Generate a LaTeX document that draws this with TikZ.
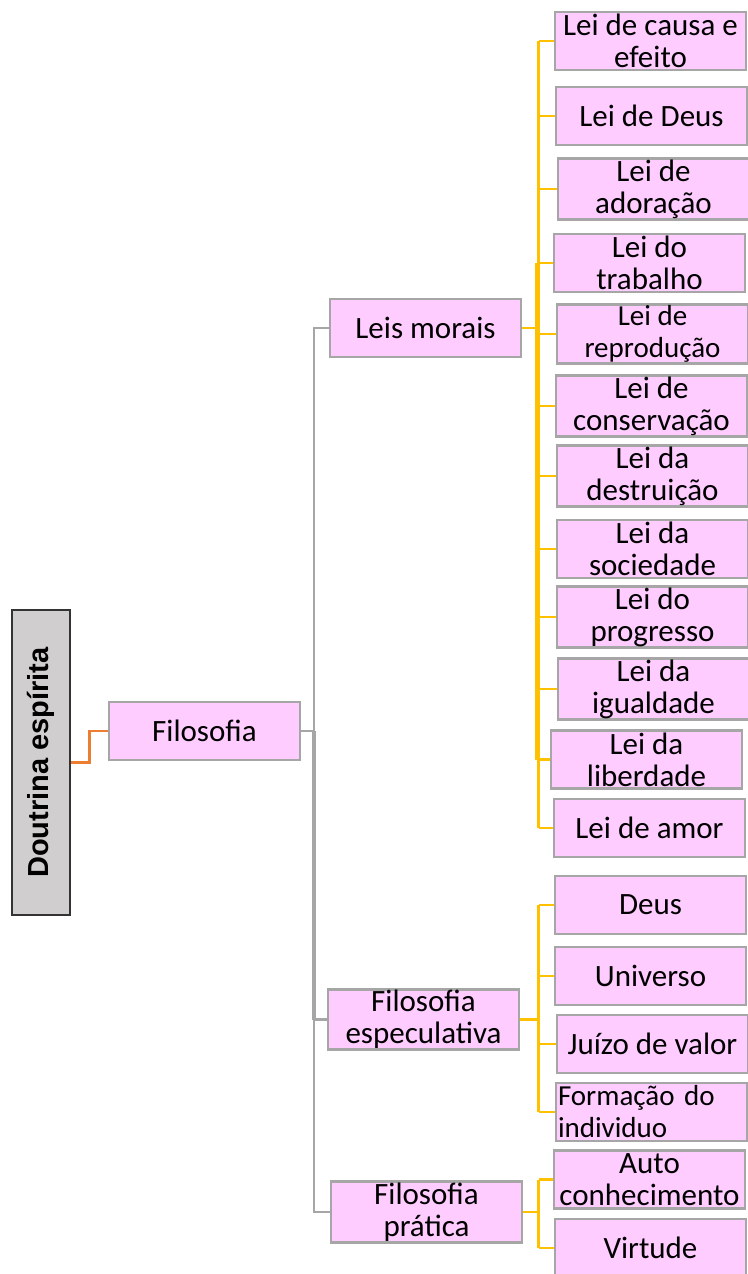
\documentclass[tikz,border=0pt]{standalone}
\usepackage{fontspec}
\setmainfont{Carlito}
\newfontfamily\titlefont{Liberation Sans}
\usetikzlibrary{positioning}

\definecolor{pinkfill}{HTML}{FFCCFF}
\definecolor{boxline}{HTML}{A6A6A6}
\definecolor{greyfill}{HTML}{D0CECE}
\definecolor{linkorange}{HTML}{ED7D31}
\definecolor{linkyellow}{HTML}{FFC000}

\begin{document}
\begin{tikzpicture}[x=1pt,y=-1pt]
\tikzstyle{topic}=[rectangle, draw=boxline, fill=pinkfill, line width=2.6pt, minimum width=191pt, minimum height=58pt, inner sep=1pt, align=center, font=\fontsize{31}{32}\selectfont]
\tikzstyle{root}=[rectangle, draw=black!80, fill=greyfill, line width=1.6pt, minimum width=305pt, minimum height=58pt, inner sep=1pt, rotate=90, font=\titlefont\bfseries\fontsize{29}{30}\selectfont]
\tikzstyle{orangelink}=[draw=linkorange, line width=2.8pt]
\tikzstyle{greylink}=[draw=boxline, line width=2.6pt]
\tikzstyle{yellowlink}=[draw=linkyellow, line width=2.6pt]

	\useasboundingbox (0,0) rectangle (747,1274);

	\node[root] (doutrina) at (41,762.5) {Doutrina espírita};
	\node[topic] (filo) at (204.5,731) {Filosofia};

	\node[topic] (morais) at (425.5,328) {Leis morais};
	\node[topic] (espec) at (423.5,1019.5) {Filosofia\\especulativa};
	\node[topic] (pratica) at (426.5,1212) {Filosofia\\prática};

	% leis morais
	\node[topic] (causa) at (650.5,41) {Lei de causa e\\efeito};
	\node[topic] (leideus) at (651.5,116) {Lei de Deus};
	\node[topic] (adoracao) at (653.5,189) {Lei de\\adoração};
	\node[topic] (trabalho) at (649.5,263) {Lei do\\trabalho};
	\node[topic, font=\fontsize{29}{32}\selectfont] (reproducao) at (652.5,334) {Lei de\\reprodução};
	\node[topic] (conservacao) at (651.5,406) {Lei de\\conservação};
	\node[topic] (destruicao) at (652.5,476) {Lei da\\destruição};
	\node[topic] (sociedade) at (652.5,549) {Lei da\\sociedade};
	\node[topic] (progresso) at (652.5,617) {Lei do\\progresso};
	\node[topic] (igualdade) at (653.5,689) {Lei da\\igualdade};
	\node[topic] (liberdade) at (646.5,759.5) {Lei da\\liberdade};
	\node[topic] (amor) at (649.5,828) {Lei de amor};

	% especulativa
	\node[topic] (deus) at (650.5,905) {Deus};
	\node[topic] (universo) at (650.5,976) {Universo};
	\node[topic] (juizo) at (652.5,1044) {Juízo de valor};
	\node[topic, align=left, text width=187pt, inner xsep=2pt, font=\fontsize{29}{32}\selectfont] (formacao) at (651.5,1112) {Formação do\\individuo};

	% pratica
	\node[topic] (auto) at (649.5,1179.5) {Auto\\conhecimento};
	\node[topic] (virtude) at (650.5,1248) {Virtude};

	\coordinate (ytrunk) at (538.5,0);
	\coordinate (gtrunk) at (314,0);

	\draw[orangelink] (doutrina.south) -- ++(19,0) |- (filo.west);

	\draw[greylink] (filo.east) -- (filo.east -| gtrunk);
	\draw[greylink] (morais.west) -| (gtrunk |- pratica.west) -- (pratica.west);
	\draw[greylink] (espec.west) -- (espec.west -| gtrunk);
	\draw[greylink, line width=4pt] (filo.east -| gtrunk) -- (espec.west -| gtrunk);

	\draw[yellowlink] (morais.east) -- (morais.east -| ytrunk);
	\draw[yellowlink] (causa.west -| ytrunk) -- (amor.west -| ytrunk);
	\draw[yellowlink, line width=5pt] ([xshift=-1pt]trabalho.west -| ytrunk) -- ([xshift=-1pt]liberdade.west -| ytrunk);
	\foreach \n in {causa,leideus,adoracao,trabalho,reproducao,conservacao,destruicao,sociedade,progresso,igualdade,liberdade,amor}
		\draw[yellowlink] (\n.west) -- (\n.west -| ytrunk);

	\draw[yellowlink] (espec.east) -- (espec.east -| ytrunk);
	\draw[yellowlink] (deus.west -| ytrunk) -- (formacao.west -| ytrunk);
	\foreach \n in {deus,universo,juizo,formacao}
		\draw[yellowlink] (\n.west) -- (\n.west -| ytrunk);

	\draw[yellowlink] (pratica.east) -- (pratica.east -| ytrunk);
	\draw[yellowlink] (auto.west -| ytrunk) -- (virtude.west -| ytrunk);
	\foreach \n in {auto,virtude}
		\draw[yellowlink] (\n.west) -- (\n.west -| ytrunk);

\end{tikzpicture}
\end{document}
